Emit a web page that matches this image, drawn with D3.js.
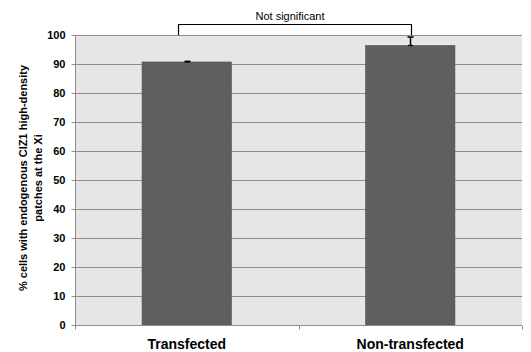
<!DOCTYPE html>
<html><head><meta charset="utf-8">
<script src="https://cdn.jsdelivr.net/npm/d3@7"></script>
<style>body{margin:0;background:#fff;}svg{display:block;font-family:Arial,"Liberation Sans",sans-serif;}</style>
</head><body>
<svg id="c" width="531" height="352"></svg>
<script>
const categories = ["Transfected", "Non-transfected"];
const values = [90.7, 96.4];
const errors = [0.2, 2.9];
const yTicks = [0, 10, 20, 30, 40, 50, 60, 70, 80, 90, 100];
const yTitle = ["% cells with endogenous CIZ1 high-density", "patches at the Xi"];
const sigLabel = "Not significant";

const svg = d3.select("#c");
const m = {l: 75, r: 522, t: 35, b: 325};
const x = d3.scaleBand().domain(categories).range([m.l, m.r]).paddingInner(0.6).paddingOuter(0.3);
const y = d3.scaleLinear().domain([0, 100]).range([m.b, m.t]);

svg.append("rect").attr("x", m.l).attr("y", m.t).attr("width", m.r - m.l).attr("height", m.b - m.t).attr("fill", "#e6e6e6");

svg.append("g").selectAll("line").data(yTicks.filter(d => d > 0)).join("line")
  .attr("x1", m.l).attr("x2", m.r).attr("y1", d => Math.round(y(d)) + 0.5).attr("y2", d => Math.round(y(d)) + 0.5)
  .attr("stroke", "#8c8c8c").attr("stroke-width", 1);

svg.append("g").selectAll("rect").data(categories).join("rect")
  .attr("x", d => x(d)).attr("width", x.bandwidth())
  .attr("y", (d, i) => y(values[i])).attr("height", (d, i) => y(0) - y(values[i]))
  .attr("fill", "#5f5f5f").attr("stroke", "#555").attr("stroke-width", 0.6);

// error bars (plus direction)
const eb = svg.append("g").attr("stroke", "#000");
categories.forEach((c, i) => {
  const cx = Math.round(x(c) + x.bandwidth() / 2) + 0.5;
  const hi = y(values[i] + errors[i]), lo = y(values[i]);
  eb.append("line").attr("x1", cx).attr("x2", cx).attr("y1", hi).attr("y2", lo).attr("stroke-width", 1.5);
  eb.append("line").attr("x1", cx - 3).attr("x2", cx + 3).attr("y1", hi).attr("y2", hi).attr("stroke-width", 1.6);
  eb.append("line").attr("x1", cx - 2.5).attr("x2", cx + 2.5).attr("y1", lo).attr("y2", lo).attr("stroke-width", 1.2);
});

// y axis
const ya = svg.append("g").attr("transform", `translate(${m.l + 0.5},0)`)
  .call(d3.axisLeft(y).tickValues(yTicks).tickSize(4).tickPadding(6));
ya.select(".domain").attr("stroke", "#8c8c8c").attr("d", `M0,${m.t}V${m.b}`);
ya.selectAll(".tick line").attr("stroke", "#8c8c8c");
ya.selectAll(".tick text").attr("font-size", 11).attr("font-weight", "bold").attr("fill", "#000")
  .attr("font-family", "Arial, 'Liberation Sans', sans-serif");

// x axis
const xa = svg.append("g").attr("transform", `translate(0,${m.b + 0.5})`)
  .call(d3.axisBottom(x).tickSize(0).tickPadding(14));
xa.select(".domain").attr("stroke", "#8c8c8c").attr("d", `M${m.l},0H${m.r}`);
xa.selectAll(".tick text").attr("font-size", 14).attr("font-weight", "bold").attr("fill", "#000")
  .attr("font-family", "Arial, 'Liberation Sans', sans-serif");
xa.append("g").selectAll("line").data([x.range()[0], (x(categories[0]) + x.bandwidth() + x(categories[1])) / 2, x.range()[1]]).join("line")
  .attr("x1", d => Math.round(d) + 0.5).attr("x2", d => Math.round(d) + 0.5).attr("y1", 0).attr("y2", 4).attr("stroke", "#8c8c8c");

// y title
const yt = svg.append("text").attr("transform", `translate(27,${(m.t + m.b) / 2 - 2}) rotate(-90)`)
  .attr("text-anchor", "middle").attr("font-size", 11).attr("font-weight", "bold").attr("fill", "#000");
yt.selectAll("tspan").data(yTitle).join("tspan").attr("x", 0).attr("dy", (d, i) => i === 0 ? 0 : 15).text(d => d);

// significance bracket
const bx1 = 178, bx2 = 411;
const by = 24.5;
svg.append("path").attr("d", `M${bx1 + 0.5},${y(100)}V${by}H${bx2 + 0.5}V${y(values[1] + errors[1]) - 2}`)
  .attr("fill", "none").attr("stroke", "#000").attr("stroke-width", 1.2);
svg.append("text").attr("x", 290).attr("y", 20).attr("text-anchor", "middle").attr("font-size", 11).attr("fill", "#000").text(sigLabel);
</script>
</body></html>
